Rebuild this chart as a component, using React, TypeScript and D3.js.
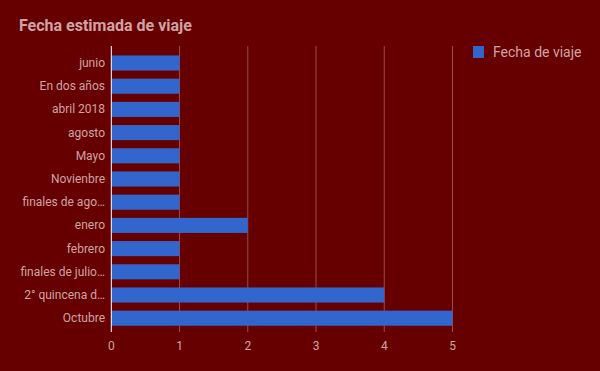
import React from "react";
import * as d3 from "d3";

const categories = [
  "junio",
  "En dos años",
  "abril 2018",
  "agosto",
  "Mayo",
  "Novienbre",
  "finales de ago…",
  "enero",
  "febrero",
  "finales de julio…",
  "2° quincena d…",
  "Octubre",
];
const values = [1, 1, 1, 1, 1, 1, 1, 2, 1, 1, 4, 5];
const ticks = [0, 1, 2, 3, 4, 5];
const seriesName = "Fecha de viaje";
const title = "Fecha estimada de viaje";

export default function App() {
  const W = 600, H = 371;
  const left = 111.3, right = 452.5;
  const top = 46, bottom = 332;
  const x = d3.scaleLinear().domain([0, 5]).range([left, right]);
  const y = d3.scaleBand<string>().domain(categories).range([51.4, 329.8]).paddingInner(0.35).paddingOuter(0.175);
  const txt = "#cfa3a3";
  const font = "Roboto, Arial, sans-serif";
  return (
    <svg width={W} height={H} style={{ position: "absolute", left: 0, top: 0 }}>
      <rect width={W} height={H} fill="#660000" />
      <text x={19} y={31} fill={txt} fontFamily={font} fontSize={16} fontWeight="bold">{title}</text>
      {ticks.map((t) => (
        <g key={t}>
          {t !== 0 && <line x1={x(t)} x2={x(t)} y1={top} y2={bottom} stroke="#9c4a4a" strokeWidth={1} />}
          <text x={x(t)} y={350} textAnchor="middle" fill={txt} fontFamily={font} fontSize={12}>{t}</text>
        </g>
      ))}
      {categories.map((c, i) => (
        <g key={c}>
          <rect x={x(0)} y={y(c)} width={x(values[i]) - x(0)} height={y.bandwidth()} fill="#3366cc" />
          <text x={105} y={(y(c) as number) + y.bandwidth() / 2 + 4} textAnchor="end" fill={txt} fontFamily={font} fontSize={12}>{c}</text>
        </g>
      ))}
      <line x1={x(0)} x2={x(0)} y1={top} y2={bottom} stroke="#ffffff" strokeWidth={1} />
      <rect x={473} y={46} width={11} height={12} fill="#3366cc" />
      <text x={493} y={57} fill={txt} fontFamily={font} fontSize={14}>{seriesName}</text>
    </svg>
  );
}
